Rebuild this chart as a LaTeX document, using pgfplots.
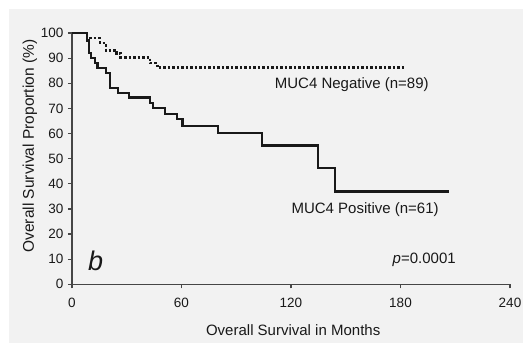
\documentclass[border=0pt]{standalone}
\usepackage{pgfplots}
\pgfplotsset{compat=1.18}
\usepackage{fontspec}
\setmainfont{Liberation Sans}
\definecolor{bg}{RGB}{242,242,242}
\definecolor{ln}{RGB}{25,25,25}
\definecolor{ax}{RGB}{70,70,70}
\begin{document}
\begin{tikzpicture}[x=1pt,y=1pt]
\path[use as bounding box] (0,0) rectangle (523,-343);
\fill[bg] (9,-9) rectangle (523,-343);
\begin{axis}[
  at={(72pt,-284.3pt)}, anchor=south west,
  scale only axis, width=438pt, height=251.3pt,
  xmin=0, xmax=240, ymin=0, ymax=100,
  axis x line*=bottom, axis y line*=left,
  xtick={0,60,120,180,240}, ytick={0,10,...,100},
  tick align=outside, major tick length=4pt,
  tick style={ax, line width=1.2pt},
  axis line style={ax, line width=1.5pt},
  ticklabel style={font=\fontsize{13.5}{15}\selectfont, text=ln},
  xticklabel style={yshift=-6pt},
  yticklabel style={xshift=-1pt},
  /pgf/number format/assume math mode=true,
  xlabel={Overall Survival in Months},
  ylabel={Overall Survival Proportion (\%)},
  xlabel style={font=\fontsize{15}{18}\selectfont, text=ln, at={(axis description cs:0.505,-0.2057)}, anchor=base},
  ylabel style={font=\fontsize{15.5}{18}\selectfont, text=ln, at={(axis description cs:-0.0868,0.55)}, anchor=base},
  clip=false,
]
\addplot[const plot, ln, line width=2.2pt] coordinates {
(0,100) (8.3,97) (9.5,92) (10.5,90) (12.5,88.2) (14,86) (18.6,84) (20.8,78.2)
(25.4,76.2) (31.2,74.3) (42.7,72) (44.6,70) (51,67.8) (57.4,65.8) (60.6,63.1)
(79.8,60.2) (104.3,55.2) (134.6,46.2) (144,36.9) (206.6,36.9)};
\addplot[const plot, ln, line width=2.5pt, dash pattern=on 2.5pt off 2pt] coordinates {
(0,100) (8.3,98) (15.3,96.1) (18.6,93.1) (24.5,91.9) (26.7,90.3) (42.7,88)
(46.8,86.2) (182.8,86.2)};
\node[font=\fontsize{15}{18}\selectfont, text=ln, anchor=base] at (axis cs:153.3,77.9) {MUC4 Negative (n=89)};
\node[font=\fontsize{15}{18}\selectfont, text=ln, anchor=base] at (axis cs:160.6,28.3) {MUC4 Positive (n=61)};
\node[font=\fontsize{15}{18}\selectfont, text=ln, anchor=base] at (axis cs:193,8.1) {\textit{p}=0.0001};
\node[font=\fontsize{27}{30}\selectfont\itshape, text=ln, anchor=base] at (axis cs:12.9,5.4) {b};
\end{axis}
\end{tikzpicture}
\end{document}
